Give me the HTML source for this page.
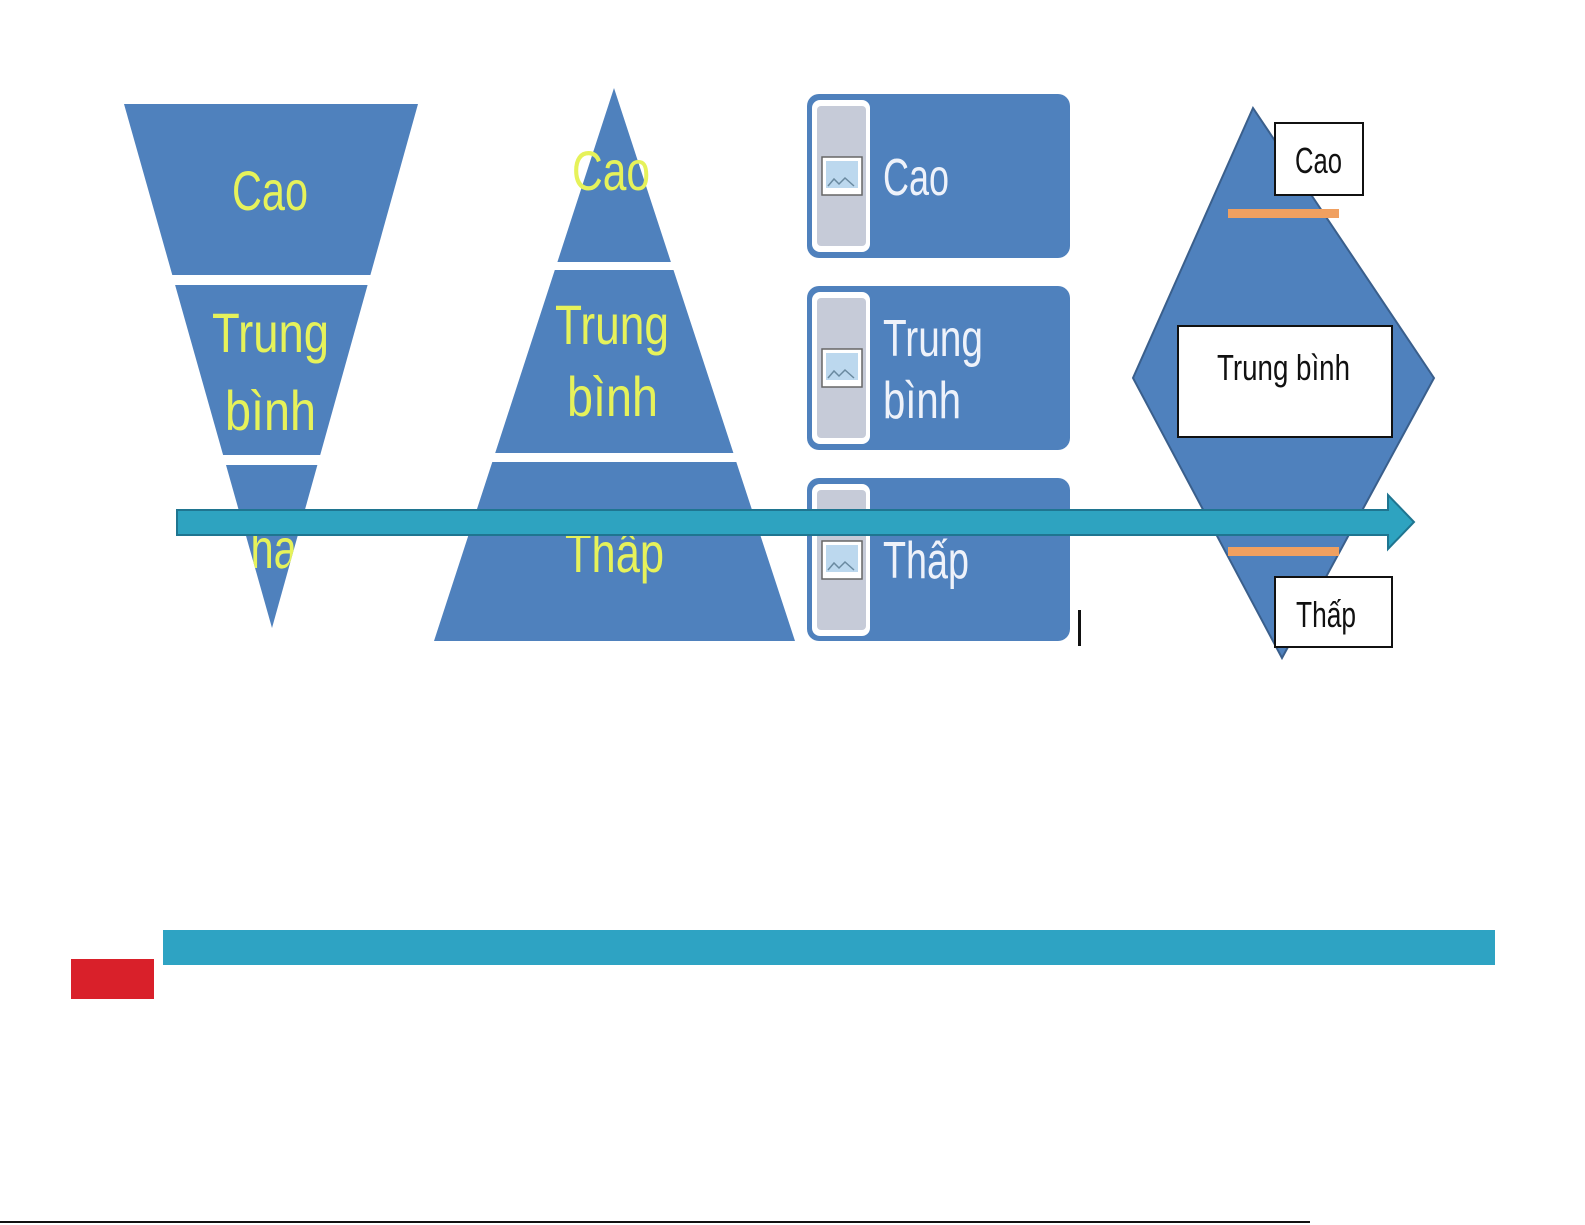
<!DOCTYPE html>
<html><head><meta charset="utf-8"><style>
html,body{margin:0;padding:0;background:#fff;width:1585px;height:1225px;overflow:hidden}
svg{display:block}
text{font-family:"Liberation Sans",sans-serif}
</style></head><body>
<svg width="1585" height="1225" viewBox="0 0 1585 1225" xmlns="http://www.w3.org/2000/svg">
<defs>
<clipPath id="inv"><polygon points="124,104 418,104 272,628"/></clipPath>
<g id="icon"><rect x="822" y="0" width="40" height="38" fill="#fff" stroke="#666" stroke-width="1.5"/><rect x="826" y="4" width="32" height="27" fill="#bcd8ee"/><path d="M828 29 l6 -7 l5 5 l6 -6 l9 8" stroke="#6a8aa0" fill="none" stroke-width="1.5"/></g>
</defs>
<g fill="#4f81bd">
<polygon points="124,104 418,104 370.4,275 172.3,275"/>
<polygon points="175.1,285 367.6,285 320.2,455 223.1,455"/>
<polygon points="226,465 317.4,465 272,628"/>
</g>
<g fill="#e6f25a" font-size="56" lengthAdjust="spacingAndGlyphs">
<text x="232" y="210" textLength="76" lengthAdjust="spacingAndGlyphs">Cao</text>
<text x="212" y="352" textLength="117" lengthAdjust="spacingAndGlyphs">Trung</text>
<text x="225" y="430" textLength="91" lengthAdjust="spacingAndGlyphs">bình</text>
<text x="225" y="568" textLength="95" lengthAdjust="spacingAndGlyphs" clip-path="url(#inv)">Thấp</text>
</g>
<g fill="#4f81bd">
<polygon points="614,88 670.9,262 557.4,262"/>
<polygon points="554.8,270 673.5,270 733.4,453 495.2,453"/>
<polygon points="492.3,462 736.3,462 795,641 434,641"/>
</g>
<g fill="#e6f25a" font-size="56">
<text x="572" y="190" textLength="78" lengthAdjust="spacingAndGlyphs">Cao</text>
<text x="555" y="344" textLength="114" lengthAdjust="spacingAndGlyphs">Trung</text>
<text x="567" y="416" textLength="91" lengthAdjust="spacingAndGlyphs">bình</text>
<text x="565" y="572" textLength="99" lengthAdjust="spacingAndGlyphs">Thấp</text>
</g>
<g>
<rect x="807" y="94" width="263" height="164" rx="12" fill="#4f81bd"/>
<rect x="807" y="286" width="263" height="164" rx="12" fill="#4f81bd"/>
<rect x="807" y="478" width="263" height="163" rx="12" fill="#4f81bd"/>
<rect x="812" y="100" width="58" height="152" rx="8" fill="#fff"/>
<rect x="817" y="106" width="49" height="140" rx="4" fill="#c6cbd8"/>
<rect x="812" y="292" width="58" height="152" rx="8" fill="#fff"/>
<rect x="817" y="298" width="49" height="140" rx="4" fill="#c6cbd8"/>
<rect x="812" y="484" width="58" height="152" rx="8" fill="#fff"/>
<rect x="817" y="490" width="49" height="140" rx="4" fill="#c6cbd8"/>
<use href="#icon" y="157"/>
<use href="#icon" y="349"/>
<use href="#icon" y="541"/>
</g>
<g fill="#eef2fa" font-size="52">
<text x="883" y="195" textLength="66" lengthAdjust="spacingAndGlyphs">Cao</text>
<text x="883" y="356" textLength="100" lengthAdjust="spacingAndGlyphs">Trung</text>
<text x="883" y="418" textLength="78" lengthAdjust="spacingAndGlyphs">bình</text>
<text x="883" y="578" textLength="86" lengthAdjust="spacingAndGlyphs">Thấp</text>
</g>
<rect x="1078" y="610" width="3" height="36" fill="#111"/>
<polygon points="1253,108 1434,378 1282,658 1133,378" fill="#4f81bd" stroke="#3a5f8c" stroke-width="2"/>
<rect x="1228" y="209" width="111" height="9" fill="#f0a060"/>
<rect x="1228" y="547" width="111" height="9" fill="#f0a060"/>
<rect x="1275" y="123" width="88" height="72" fill="#fff" stroke="#111" stroke-width="2"/>
<rect x="1178" y="326" width="214" height="111" fill="#fff" stroke="#111" stroke-width="2"/>
<rect x="1275" y="577" width="117" height="70" fill="#fff" stroke="#111" stroke-width="2"/>
<g fill="#111" font-size="36">
<text x="1295" y="173" textLength="47" lengthAdjust="spacingAndGlyphs">Cao</text>
<text x="1217" y="380" textLength="133" lengthAdjust="spacingAndGlyphs">Trung bình</text>
<text x="1296" y="627" textLength="60" lengthAdjust="spacingAndGlyphs">Thấp</text>
</g>
<polygon points="177,510 1388,510 1388,495 1414,522 1388,549 1388,535 177,535" fill="#2ea3c0" stroke="#1f7590" stroke-width="2"/>
<rect x="163" y="930" width="1332" height="35" fill="#2ea3c3"/>
<rect x="71" y="959" width="83" height="40" fill="#d9202a"/>
<rect x="0" y="1221" width="1310" height="2" fill="#111"/>
</svg>
</body></html>
